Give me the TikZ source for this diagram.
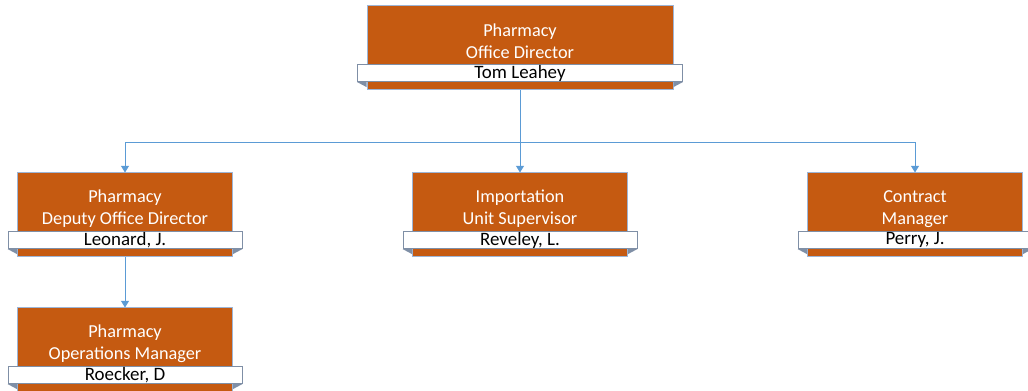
\documentclass[tikz,border=0pt]{standalone}
\usepackage{fontspec}
\setmainfont{Carlito}
\usetikzlibrary{positioning, arrows.meta}

\definecolor{unitfill}{HTML}{C55A11}
\definecolor{unitedge}{HTML}{9DB5D6}
\definecolor{linkblue}{HTML}{5B9BD5}
\definecolor{foldgray}{HTML}{7F8FA6}

\tikzset{
  unit/.style={draw=unitedge, line width=0.75pt, fill=unitfill, minimum width=161.25pt,
    minimum height=63pt, inner sep=0pt},
  title/.style={text=white, align=center, font=\fontsize{13.7}{16.5}\selectfont},
  band/.style={draw=foldgray, line width=0.6pt, fill=white, minimum width=175.5pt,
    minimum height=12.75pt, inner sep=0pt, font=\fontsize{14.2}{16}\selectfont},
  link/.style={draw=linkblue, line width=0.75pt, -{Triangle[width=6pt, length=5pt]}}
}

\begin{document}
\begin{tikzpicture}[x=0.75pt, y=-0.75pt, on grid]
  \useasboundingbox (0,0) rectangle (1028,391);

  % boxes
  \node[unit, minimum width=229.5pt] (top) at (520,48) {};
  \node[unit] (import) [below=125.25pt of top] {};
  \node[unit] (deputy) [left=296.25pt of import] {};
  \node[unit] (contract) [right=296.25pt of import] {};
  \node[unit] (ops) [below=101.25pt of deputy] {};

  % titles
  \node[title] (top-title) at ([yshift=5.25pt]top.center) {Pharmacy\\Office Director};
  \node[title] (deputy-title) at ([yshift=4.5pt]deputy.center) {Pharmacy\\Deputy Office Director};
  \node[title] (import-title) at ([yshift=4.5pt]import.center) {Importation\\Unit Supervisor};
  \node[title] (contract-title) at ([yshift=4.5pt]contract.center) {Contract\\Manager};
  \node[title] (ops-title) at ([yshift=4.5pt]ops.center) {Pharmacy\\Operations Manager};

  % name bands
  \node[band, minimum width=243.75pt] (top-name) at ([yshift=13pt]top.south) {Tom Leahey};
  \node[band] (deputy-name) at ([yshift=13pt]deputy.south) {Leonard, J.};
  \node[band] (import-name) at ([yshift=13pt]import.south) {Reveley, L.};
  \node[band] (contract-name) at ([yshift=13pt]contract.south) {Perry, J.};
  \node[band] (ops-name) at ([yshift=13pt]ops.south) {Roecker, D};

  \foreach \b in {top, deputy, import, contract, ops} {
    \fill[foldgray] (\b-name.south west) -- (\b.west |- \b-name.south)
      -- ([yshift=-3.75pt]\b.west |- \b-name.south) -- cycle;
    \fill[foldgray] (\b-name.south east) -- (\b.east |- \b-name.south)
      -- ([yshift=-3.75pt]\b.east |- \b-name.south) -- cycle;
  }

  % connectors
  \coordinate (bus) at ([yshift=-39pt]top.south);
  \draw[link] (top.south) -- (import.north);
  \draw[link] (bus) -| (deputy.north);
  \draw[link] (bus) -| (contract.north);
  \draw[link] (deputy.south) -- (ops.north);
\end{tikzpicture}
\end{document}
